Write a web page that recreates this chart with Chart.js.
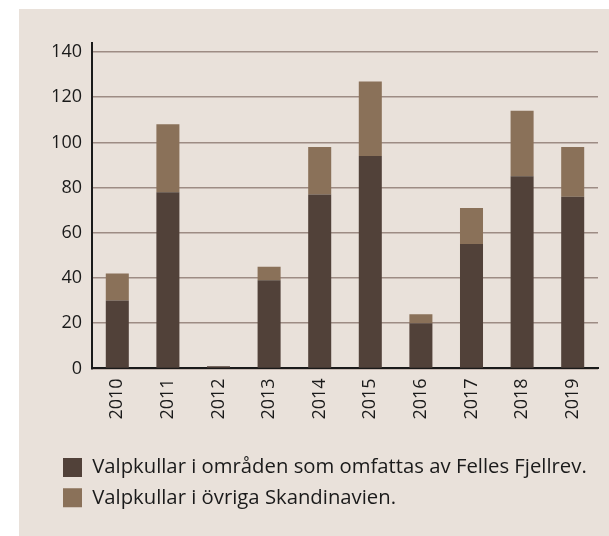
<!DOCTYPE html>
<html>
<head>
<meta charset="utf-8">
<script src="https://cdn.jsdelivr.net/npm/chart.js@4"></script>
<style>
html,body{margin:0;padding:0;background:#fff;}
#panel{position:absolute;left:19px;top:9px;width:590px;height:527px;background:#e9e1da;}
#wrap{position:absolute;left:0;top:0;width:609px;height:536px;}
</style>
</head>
<body>
<div id="panel"></div>
<div id="wrap"><canvas id="valpChart" width="609" height="536"></canvas></div>
<script>
// years and litters per area
const years = ["2010","2011","2012","2013","2014","2015","2016","2017","2018","2019"]
const fellesFjellrev = [30, 78, 1, 39, 77, 94, 20, 55, 85, 76]
const ovrigaSkandinavien = [12, 30, 0, 6, 21, 33, 4, 16, 29, 22]
const yTicks = [0, 20, 40, 60, 80, 100, 120, 140]

const dark = "#514139"
const light = "#8a7159"
const font = "'Open Sans', 'Noto Sans', sans-serif"

new Chart(
document.getElementById("valpChart"),
{
type:"bar",
data:{
labels:years,
datasets:[{
label:"Valpkullar i områden som omfattas av Felles Fjellrev.",
data:fellesFjellrev,
backgroundColor:dark,
barPercentage:0.455,
categoryPercentage:1
},{
label:"Valpkullar i övriga Skandinavien.",
data:ovrigaSkandinavien,
backgroundColor:light,
barPercentage:0.455,
categoryPercentage:1
}]
},
options:{
responsive:false,
animation:false,
layout:{
padding:{left:53,right:11,top:43,bottom:18}
},
scales:{
x:{
stacked:true,
grid:{display:false,drawTicks:false},
border:{display:true,color:"#1a1a1a",width:2},
ticks:{
color:"#1a1a1a",
font:{family:font,size:18},
minRotation:90,
maxRotation:90,
padding:10
},
afterFit:function(scale){ scale.height = 79 }
},
y:{
stacked:true,
min:0,
max:144,
afterBuildTicks:function(scale){
scale.ticks = yTicks.map(v => ({value:v}))
},
grid:{color:"#9d8c84",lineWidth:1.5,drawTicks:false},
border:{display:true,color:"#1a1a1a",width:2},
ticks:{
color:"#1a1a1a",
font:{family:font,size:18},
padding:10
},
afterFit:function(scale){ scale.width = 39 }
},
},
plugins:{
legend:{
position:"bottom",
align:"start",
labels:{
color:"#1a1a1a",
font:{family:font,size:20.3},
boxWidth:19,
boxHeight:19,
padding:10
}
},
tooltip:{enabled:false}
}
}
}
)
</script>
</body>
</html>
